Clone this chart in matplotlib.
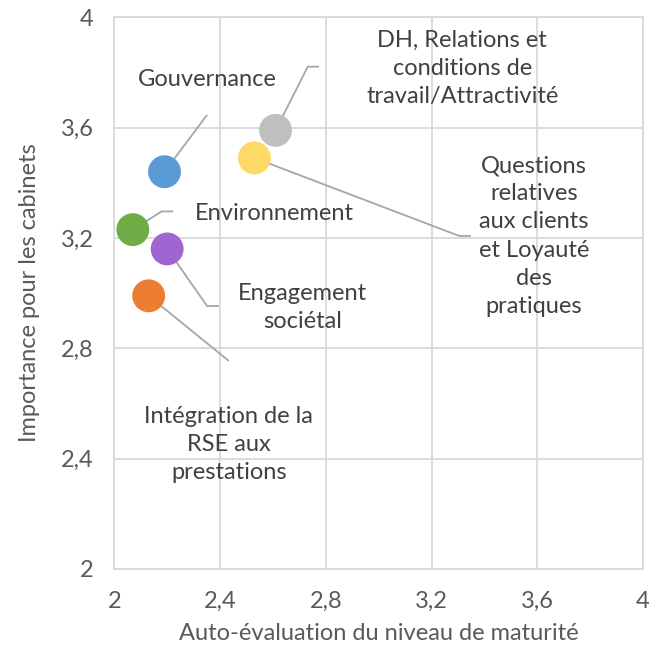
import matplotlib
matplotlib.use("Agg")
import matplotlib.pyplot as plt
from matplotlib.ticker import FuncFormatter

plt.rcParams['font.family'] = ['Lato', 'DejaVu Sans']

# ---- data ----
labels = ["Gouvernance",
          "DH, Relations et\nconditions de\ntravail/Attractivité",
          "Questions\nrelatives\naux clients\net Loyauté\ndes\npratiques",
          "Environnement",
          "Engagement\nsociétal",
          "Intégration de la\nRSE aux\nprestations"]
maturite = [2.19, 2.61, 2.53, 2.07, 2.20, 2.13]
importance = [3.44, 3.59, 3.49, 3.23, 3.16, 2.99]
colors = ["#5B9BD5", "#BFBFBF", "#FFD966", "#70AD47", "#A065D1", "#ED7D31"]
ticks = [2, 2.4, 2.8, 3.2, 3.6, 4]

# ---- layout of the data labels (label centre, leader-line end, elbow) ----
label_pos = [(2.350, 3.775), (3.316, 3.816), (3.587, 3.207),
             (2.606, 3.290), (2.712, 2.949), (2.433, 2.452)]
leader_end = [(2.351, 3.646), (2.774, 3.821), (3.349, 3.207),
              (2.223, 3.296), (2.396, 2.953), (2.433, 2.754)]
leader_elbow = [None, (2.732, 3.821), (3.305, 3.207),
                (2.179, 3.296), (2.351, 2.953), None]

fig = plt.figure(figsize=(6.68, 6.45), dpi=100)
ax = fig.add_axes([0.1711, 0.1181, 0.7915, 0.8551])

text_col = "#404040"
axis_col = "#595959"
grid_col = "#D9D9D9"

ax.set_xlim(2, 4)
ax.set_ylim(2, 4)
ax.set_xticks(ticks)
ax.set_yticks(ticks)
fmt = FuncFormatter(lambda v, p: ("%g" % v).replace(".", ","))
ax.xaxis.set_major_formatter(fmt)
ax.yaxis.set_major_formatter(fmt)
ax.grid(True, color=grid_col, linewidth=1.3)
ax.set_axisbelow(True)
for s in ax.spines.values():
    s.set_color(grid_col)
    s.set_linewidth(1.3)
ax.tick_params(axis="x", length=0, labelsize=17, labelcolor=axis_col, pad=16)
ax.tick_params(axis="y", length=0, labelsize=17, labelcolor=axis_col, pad=15)

# leader lines
for i in range(len(labels)):
    xs = [maturite[i]]
    ys = [importance[i]]
    if leader_elbow[i] is not None:
        xs.append(leader_elbow[i][0])
        ys.append(leader_elbow[i][1])
    xs.append(leader_end[i][0])
    ys.append(leader_end[i][1])
    ax.plot(xs, ys, color="#A6A6A6", linewidth=1.3, zorder=2, solid_capstyle="butt")

ax.scatter(maturite, importance, s=560, c=colors, zorder=3, linewidths=0)

for i, lab in enumerate(labels):
    ax.text(label_pos[i][0], label_pos[i][1], lab, ha="center", va="center",
            multialignment="center", fontsize=17, color=text_col,
            linespacing=1.42, zorder=4)

ax.set_xlabel("Auto-évaluation du niveau de maturité", fontsize=17, color=axis_col, labelpad=8)
ax.set_ylabel("Importance pour les cabinets", fontsize=17, color=axis_col, labelpad=15)

fig.savefig("out.png", dpi=100)
